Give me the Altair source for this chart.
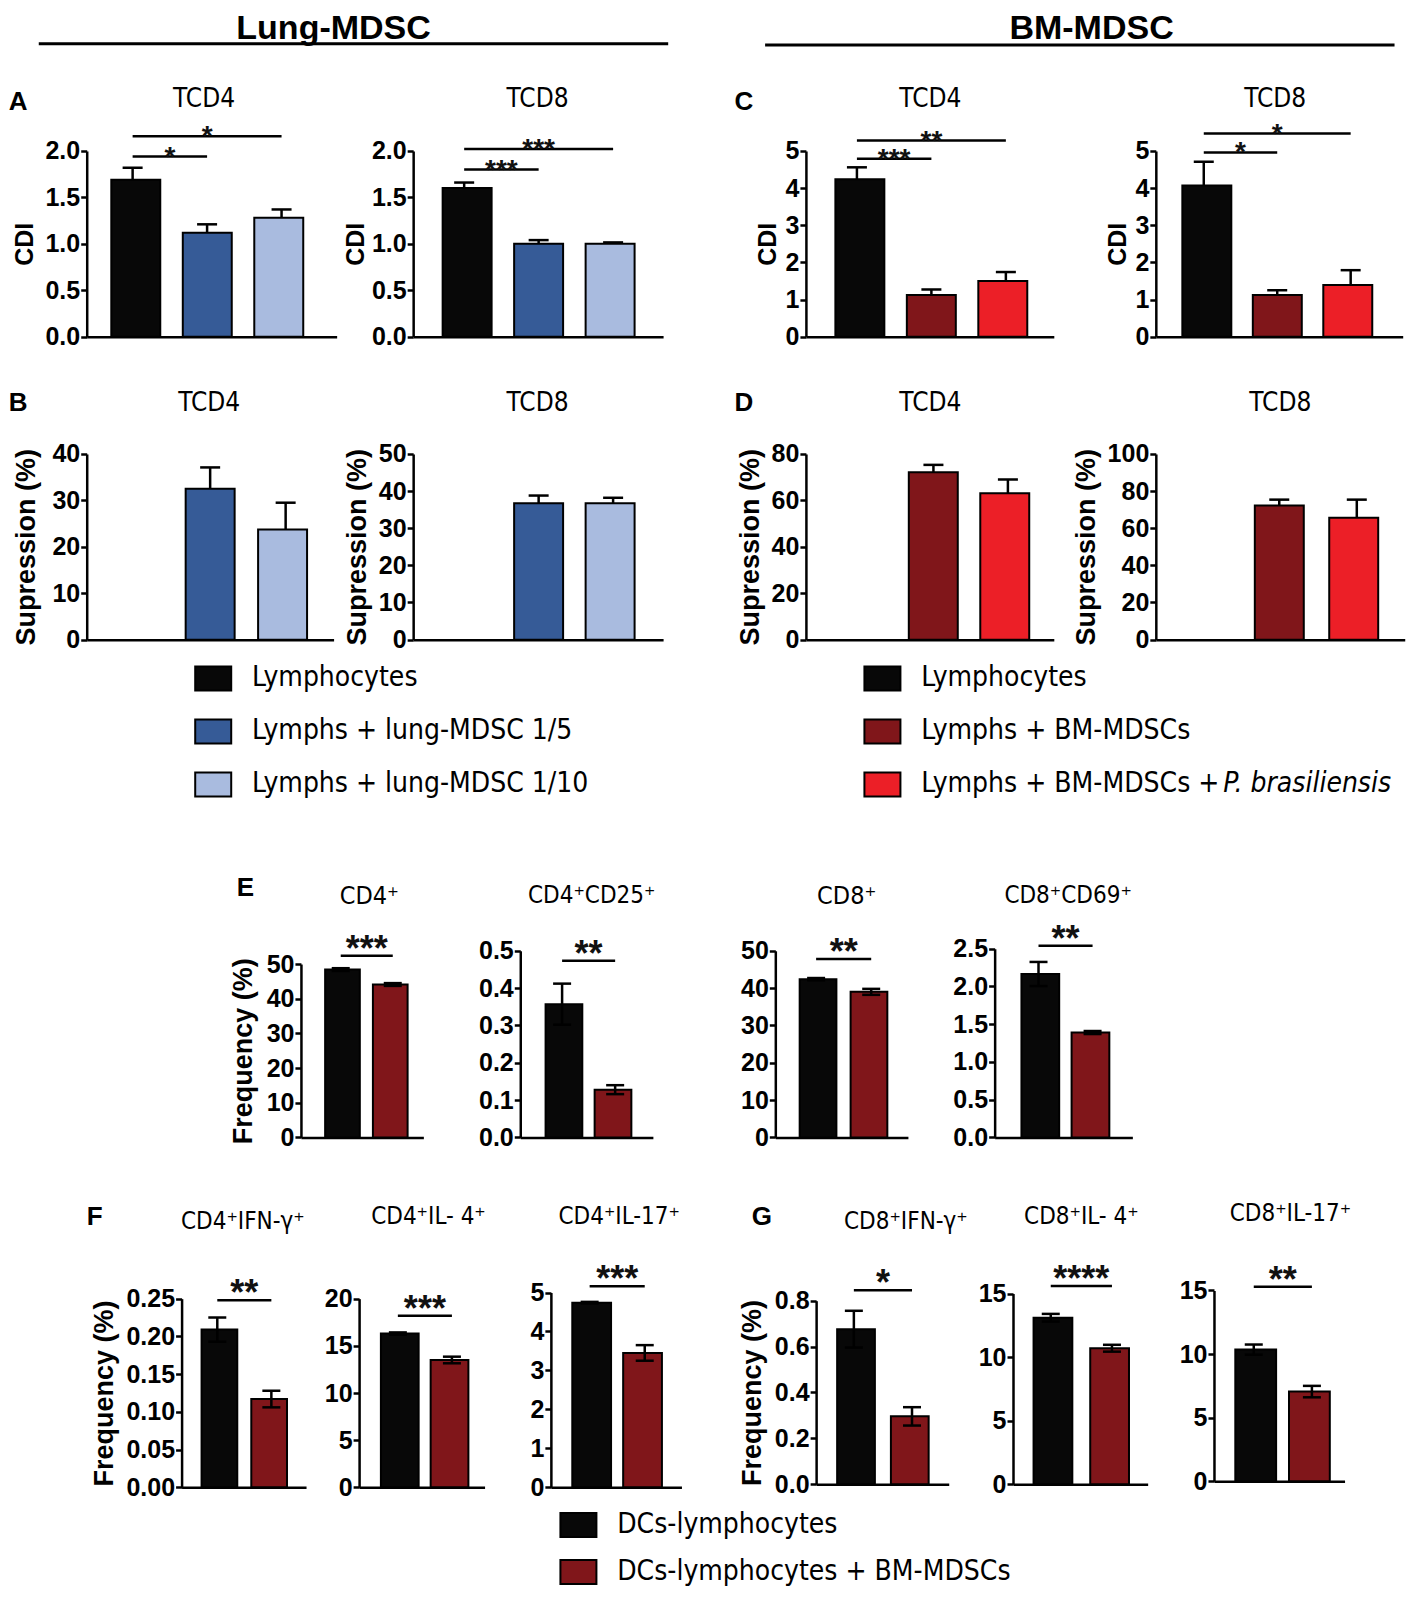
import altair as alt
import pandas as pd

# ---------------- groups / colours ----------------
lung_groups = ["Lymphocytes", "Lymphs + lung-MDSC 1/5", "Lymphs + lung-MDSC 1/10"]
lung_colors = ["#080808", "#365b97", "#a9bbdf"]
bm_groups = ["Lymphocytes", "Lymphs + BM-MDSCs", "Lymphs + BM-MDSCs + P. brasiliensis"]
bm_colors = ["#080808", "#80161a", "#ec1f27"]
dc_groups = ["DCs-lymphocytes", "DCs-lymphocytes + BM-MDSCs"]
dc_colors = ["#080808", "#80161a"]

# legend texts (BM third row has an italic species name)
lung_legend = ["Lymphocytes", "Lymphs + lung-MDSC 1/5", "Lymphs + lung-MDSC 1/10"]
bm_legend_plain = ["Lymphocytes", "Lymphs + BM-MDSCs", "Lymphs + BM-MDSCs + "]
bm_legend_italic = ["", "", "P. brasiliensis"]
dc_legend = ["DCs-lymphocytes", "DCs-lymphocytes + BM-MDSCs"]

# ---------------- values (mean, SEM, significance brackets) ----------------
# brackets: (from bar, to bar, height, label)
a_tcd4_mean = [1.69, 1.12, 1.28]
a_tcd4_err = [0.13, 0.09, 0.09]
a_tcd4_sig = [(0, 1, 1.94, "*"), (0, 2, 2.16, "*")]

a_tcd8_mean = [1.60, 1.00, 1.00]
a_tcd8_err = [0.06, 0.04, 0.015]
a_tcd8_sig = [(0, 1, 1.80, "***"), (0, 2, 2.02, "***")]

c_tcd4_mean = [4.24, 1.12, 1.50]
c_tcd4_err = [0.32, 0.15, 0.24]
c_tcd4_sig = [(0, 1, 4.79, "***"), (0, 2, 5.28, "**")]

c_tcd8_mean = [4.07, 1.12, 1.39]
c_tcd8_err = [0.64, 0.13, 0.40]
c_tcd8_sig = [(0, 1, 4.96, "*"), (0, 2, 5.47, "*")]

b_tcd4_mean = [32.5, 23.7]
b_tcd4_err = [4.6, 5.8]
b_tcd8_mean = [36.7, 36.7]
b_tcd8_err = [2.1, 1.5]
d_tcd4_mean = [72.1, 63.1]
d_tcd4_err = [3.2, 5.9]
d_tcd8_mean = [72.2, 65.6]
d_tcd8_err = [3.2, 9.8]

e_cd4_mean = [48.4, 44.1]
e_cd4_err = [0.4, 0.4]
e_cd4_sig = [(0, 1, 52.4, "***")]
e_cd4cd25_mean = [0.357, 0.128]
e_cd4cd25_err = [0.055, 0.012]
e_cd4cd25_sig = [(0, 1, 0.473, "**")]
e_cd8_mean = [42.4, 39.0]
e_cd8_err = [0.3, 0.8]
e_cd8_sig = [(0, 1, 47.8, "**")]
e_cd8cd69_mean = [2.165, 1.39]
e_cd8cd69_err = [0.16, 0.02]
e_cd8cd69_sig = [(0, 1, 2.54, "**")]

f_ifn_mean = [0.209, 0.117]
f_ifn_err = [0.016, 0.011]
f_ifn_sig = [(0, 1, 0.248, "**")]
f_il4_mean = [16.3, 13.5]
f_il4_err = [0.12, 0.35]
f_il4_sig = [(0, 1, 18.2, "***")]
f_il17_mean = [4.74, 3.45]
f_il17_err = [0.02, 0.2]
f_il17_sig = [(0, 1, 5.16, "***")]

g_ifn_mean = [0.676, 0.296]
g_ifn_err = [0.08, 0.04]
g_ifn_sig = [(0, 1, 0.845, "*")]
g_il4_mean = [13.1, 10.7]
g_il4_err = [0.3, 0.27]
g_il4_sig = [(0, 1, 15.6, "****")]
g_il17_mean = [10.35, 7.05]
g_il17_err = [0.4, 0.45]
g_il17_sig = [(0, 1, 15.3, "**")]

# ---------------- layout / style ----------------
W, H = 1402, 1581
M = 8          # page margin
K = 1418 / 1390  # layout grid -> page pixels
NARROW = "Liberation Sans Narrow, Arial Narrow, DejaVu Sans Condensed, sans-serif"
ARIAL = "Liberation Sans, Arial, Helvetica, sans-serif"


def px(v):
    return v * K - M


layers = []


def txt(s, x, y, size, weight="normal", font=NARROW, align="center",
        baseline="middle", style="normal"):
    return alt.Chart(pd.DataFrame({"t": [s]})).mark_text(
        fontSize=size, fontWeight=weight, font=font, align=align,
        baseline=baseline, fontStyle=style, color="black"
    ).encode(text="t:N", x=alt.value(px(x)), y=alt.value(px(y)))


def panel(groups, colors, idx, mean, err, sig, L, both=False, ytitle=None,
          ytx=0, ytsize=27, star_size=28, star_dy=9, cap=20):
    x0, x1, c0, s, w = L["x0"], L["x1"], L["c0"], L["s"], L["w"]
    y0, ytop, ymax = L["y0"], L["ytop"], L["ymax"]
    xs = alt.Scale(domain=[(x0 - c0) / s, (x1 - c0) / s], range=[px(x0), px(x1)],
                   nice=False, zero=False)
    ys = alt.Scale(domain=[0, ymax], range=[px(y0), px(ytop)], nice=False, zero=False)
    df = pd.DataFrame({"group": [groups[i] for i in idx], "idx": idx,
                       "mean": mean, "err": err})
    df["hi"] = df["mean"] + df["err"]
    df["lo"] = df["mean"] - df["err"] if both else df["mean"]

    xaxis = alt.Axis(orient="bottom", offset=px(y0) - H, ticks=False, labels=False,
                     title=None, grid=False, domainWidth=2.5, domainColor="black")
    yaxis_kw = dict(orient="left", offset=-px(x0), values=L["ticks"], format=L["fmt"],
                    grid=False, domainWidth=2.5, domainColor="black", tickSize=6,
                    tickWidth=2.5, tickColor="black", labelFont=ARIAL,
                    labelFontSize=25, labelFontWeight="bold", labelColor="black",
                    labelPadding=1, labelOverlap=False, labelBound=False)
    if ytitle:
        yaxis_kw.update(title=ytitle, titleX=(ytx - x0) * K, titleBaseline="middle",
                        titleAngle=-90, titleFont=ARIAL, titleFontSize=ytsize,
                        titleFontWeight="bold", titleColor="black")
    else:
        yaxis_kw.update(title=None)
    yaxis = alt.Axis(**yaxis_kw)

    bars = alt.Chart(df).mark_bar(size=w * K, stroke="black", strokeWidth=2,
                                  orient="vertical").encode(
        x=alt.X("idx:Q", scale=xs, axis=xaxis),
        y=alt.Y("mean:Q", scale=ys, axis=yaxis),
        y2=alt.datum(0),
        color=alt.Color("group:N", scale=alt.Scale(domain=groups, range=colors),
                        legend=None),
    )
    rule = alt.Chart(df).mark_rule(color="black", strokeWidth=2.5).encode(
        x=alt.X("idx:Q", scale=xs, axis=None),
        y=alt.Y("lo:Q", scale=ys, axis=None), y2="hi:Q")
    capt = alt.Chart(df).mark_tick(orient="horizontal", size=cap, thickness=2.5,
                                   color="black", opacity=1).encode(
        x=alt.X("idx:Q", scale=xs, axis=None),
        y=alt.Y("hi:Q", scale=ys, axis=None))
    out = [bars, rule, capt]
    if both:
        capb = alt.Chart(df).mark_tick(orient="horizontal", size=cap, thickness=2.5,
                                       color="black", opacity=1).encode(
            x=alt.X("idx:Q", scale=xs, axis=None),
            y=alt.Y("lo:Q", scale=ys, axis=None))
        out.append(capb)
    if sig:
        sdf = pd.DataFrame(sig, columns=["a", "b", "level", "label"])
        sdf["mid"] = (sdf["a"] + sdf["b"]) / 2
        br = alt.Chart(sdf).mark_rule(color="black", strokeWidth=2.5).encode(
            x=alt.X("a:Q", scale=xs, axis=None), x2="b:Q",
            y=alt.Y("level:Q", scale=ys, axis=None))
        st = alt.Chart(sdf).mark_text(font=ARIAL, fontSize=star_size, fontWeight="bold",
                                      baseline="alphabetic", dy=star_dy,
                                      color="#111111").encode(
            x=alt.X("mid:Q", scale=xs, axis=None),
            y=alt.Y("level:Q", scale=ys, axis=None), text="label:N")
        out += [br, st]
    return out


def L(x0, x1, c0, s, w, y0, ytop, ymax, ticks, fmt):
    return dict(x0=x0, x1=x1, c0=c0, s=s, w=w, y0=y0, ytop=ytop, ymax=ymax,
                ticks=ticks, fmt=fmt)


t_cdi2 = [0, 0.5, 1.0, 1.5, 2.0]
t_cdi5 = [0, 1, 2, 3, 4, 5]
EFG = dict(both=True, star_size=36, star_dy=5, cap=18)

# ----- A -----
layers += panel(lung_groups, lung_colors, [0, 1, 2], a_tcd4_mean, a_tcd4_err, a_tcd4_sig,
                L(85, 330, 130, 73, 48, 330, 148, 2.0, t_cdi2, ".1f"),
                ytitle="CDI", ytx=24, ytsize=25)
layers += panel(lung_groups, lung_colors, [0, 1, 2], a_tcd8_mean, a_tcd8_err, a_tcd8_sig,
                L(405, 650, 455, 73, 48, 330, 148, 2.0, t_cdi2, ".1f"),
                ytitle="CDI", ytx=348, ytsize=25)
# ----- C -----
layers += panel(bm_groups, bm_colors, [0, 1, 2], c_tcd4_mean, c_tcd4_err, c_tcd4_sig,
                L(790, 1033, 840, 73, 48, 330, 148, 5, t_cdi5, "d"),
                ytitle="CDI", ytx=752, ytsize=25)
layers += panel(bm_groups, bm_colors, [0, 1, 2], c_tcd8_mean, c_tcd8_err, c_tcd8_sig,
                L(1133, 1375, 1180, 72, 48, 330, 148, 5, t_cdi5, "d"),
                ytitle="CDI", ytx=1095, ytsize=25)
# ----- B -----
layers += panel(lung_groups, lung_colors, [1, 2], b_tcd4_mean, b_tcd4_err, None,
                L(85, 327, 132, 74, 48, 627, 445, 40, [0, 10, 20, 30, 40], "d"),
                ytitle="Supression (%)", ytx=26)
layers += panel(lung_groups, lung_colors, [1, 2], b_tcd8_mean, b_tcd8_err, None,
                L(405, 650, 455, 73, 48, 627, 445, 50, [0, 10, 20, 30, 40, 50], "d"),
                ytitle="Supression (%)", ytx=350)
# ----- D -----
layers += panel(bm_groups, bm_colors, [1, 2], d_tcd4_mean, d_tcd4_err, None,
                L(790, 1033, 842, 73, 48, 627, 445, 80, [0, 20, 40, 60, 80], "d"),
                ytitle="Supression (%)", ytx=736)
layers += panel(bm_groups, bm_colors, [1, 2], d_tcd8_mean, d_tcd8_err, None,
                L(1133, 1377, 1178, 76, 48, 627, 445, 100, [0, 20, 40, 60, 80, 100], "d"),
                ytitle="Supression (%)", ytx=1065)
# ----- E -----
layers += panel(dc_groups, dc_colors, [0, 1], e_cd4_mean, e_cd4_err, e_cd4_sig,
                L(295, 415, 334, 51, 34, 1115, 945, 50, [0, 10, 20, 30, 40, 50], "d"),
                ytitle="Frequency (%)", ytx=239, **EFG)
layers += panel(dc_groups, dc_colors, [0, 1], e_cd4cd25_mean, e_cd4cd25_err, e_cd4cd25_sig,
                L(510, 640, 551, 52, 36, 1115, 932, 0.5, [0, 0.1, 0.2, 0.3, 0.4, 0.5], ".1f"),
                **EFG)
layers += panel(dc_groups, dc_colors, [0, 1], e_cd8_mean, e_cd8_err, e_cd8_sig,
                L(760, 890, 800, 54, 36, 1115, 932, 50, [0, 10, 20, 30, 40, 50], "d"),
                **EFG)
layers += panel(dc_groups, dc_colors, [0, 1], e_cd8cd69_mean, e_cd8cd69_err, e_cd8cd69_sig,
                L(975, 1110, 1018, 53, 37, 1115, 930, 2.5, [0, 0.5, 1.0, 1.5, 2.0, 2.5], ".1f"),
                **EFG)
# ----- F -----
layers += panel(dc_groups, dc_colors, [0, 1], f_ifn_mean, f_ifn_err, f_ifn_sig,
                L(178, 300, 213, 53, 35, 1458, 1273, 0.25,
                  [0, 0.05, 0.10, 0.15, 0.20, 0.25], ".2f"),
                ytitle="Frequency (%)", ytx=102, **EFG)
layers += panel(dc_groups, dc_colors, [0, 1], f_il4_mean, f_il4_err, f_il4_sig,
                L(352, 475, 390, 53, 37, 1458, 1273, 20, [0, 5, 10, 15, 20], "d"),
                **EFG)
layers += panel(dc_groups, dc_colors, [0, 1], f_il17_mean, f_il17_err, f_il17_sig,
                L(540, 668, 578, 54, 38, 1458, 1267, 5, [0, 1, 2, 3, 4, 5], "d"),
                **EFG)
# ----- G -----
layers += panel(dc_groups, dc_colors, [0, 1], g_ifn_mean, g_ifn_err, g_ifn_sig,
                L(800, 930, 837, 57, 37, 1455, 1275, 0.8, [0, 0.2, 0.4, 0.6, 0.8], ".1f"),
                ytitle="Frequency (%)", ytx=738, **EFG)
layers += panel(dc_groups, dc_colors, [0, 1], g_il4_mean, g_il4_err, g_il4_sig,
                L(993, 1125, 1030, 60, 38, 1455, 1268, 15, [0, 5, 10, 15], "d"),
                **EFG)
layers += panel(dc_groups, dc_colors, [0, 1], g_il17_mean, g_il17_err, g_il17_sig,
                L(1190, 1318, 1229, 57, 40, 1452, 1265, 15, [0, 5, 10, 15], "d"),
                **EFG)

# ---------------- headers ----------------
layers.append(txt("Lung-MDSC", 327, 28, 34, weight="bold", font=ARIAL))
layers.append(txt("BM-MDSC", 1070, 28, 34, weight="bold", font=ARIAL))
for (xa, xb, yy) in [(38, 655, 43), (750, 1367, 44)]:
    layers.append(alt.Chart(pd.DataFrame({"t": [0]})).mark_rule(
        color="black", strokeWidth=3).encode(
        x=alt.value(px(xa)), x2=alt.value(px(xb)), y=alt.value(px(yy))))

# ---------------- panel titles ----------------
titles = [("TCD4", 200, 97, 26), ("TCD8", 527, 97, 26), ("TCD4", 912, 97, 26),
          ("TCD8", 1250, 97, 26), ("TCD4", 205, 395, 26), ("TCD8", 527, 395, 26),
          ("TCD4", 912, 395, 26), ("TCD8", 1255, 395, 26),
          ("CD4\u207a", 362, 878, 25), ("CD4\u207aCD25\u207a", 580, 878, 24),
          ("CD8\u207a", 830, 878, 25), ("CD8\u207aCD69\u207a", 1047, 878, 24),
          ("CD4\u207aIFN-\u03b3\u207a", 238, 1198, 24), ("CD4\u207aIL- 4\u207a", 420, 1193, 24),
          ("CD4\u207aIL-17\u207a", 607, 1193, 24),
          ("CD8\u207aIFN-\u03b3\u207a", 888, 1198, 24), ("CD8\u207aIL- 4\u207a", 1060, 1193, 24),
          ("CD8\u207aIL-17\u207a", 1265, 1190, 24)]
for s, x, y, fs in titles:
    layers.append(txt(s, x, y, fs))

# ---------------- panel letters ----------------
for s, x, y in [("A", 8.5, 100), ("B", 8.5, 395), ("C", 720, 100), ("D", 720, 395),
                ("E", 232, 870), ("F", 85, 1193), ("G", 737, 1193)]:
    layers.append(txt(s, x, y, 26, weight="bold", font=ARIAL, align="left"))

# ---------------- legends ----------------
RECT = "M-0.75,-0.5L0.75,-0.5L0.75,0.5L-0.75,0.5Z"


def legend(groups, colors, labels, sq_x, tx, ys, italic=None, it_x=None):
    n = len(groups)
    df = pd.DataFrame({"group": groups, "row": list(range(n)), "label": labels})
    ysc = alt.Scale(domain=[0, n - 1], range=[px(ys[0]), px(ys[1])], nice=False, zero=False)
    out = [
        alt.Chart(df).mark_point(shape=RECT, size=2304, filled=True, stroke="black",
                                 strokeWidth=2, opacity=1).encode(
            x=alt.value(px(sq_x)), y=alt.Y("row:Q", scale=ysc, axis=None),
            fill=alt.Color("group:N", scale=alt.Scale(domain=groups, range=colors),
                           legend=None)),
        alt.Chart(df).mark_text(font=NARROW, fontSize=28, align="left", baseline="middle",
                                color="black").encode(
            x=alt.value(px(tx)), y=alt.Y("row:Q", scale=ysc, axis=None), text="label:N"),
    ]
    if italic:
        idf = pd.DataFrame({"row": list(range(n)), "label": italic})
        out.append(alt.Chart(idf).mark_text(font=NARROW, fontSize=28, align="left",
                                            baseline="middle", fontStyle="italic",
                                            color="black").encode(
            x=alt.value(px(it_x)), y=alt.Y("row:Q", scale=ysc, axis=None), text="label:N"))
    return out


layers += legend(lung_groups, lung_colors, lung_legend, 209, 247, (665, 769))
layers += legend(bm_groups, bm_colors, bm_legend_plain, 865, 903, (665, 769),
                 italic=bm_legend_italic, it_x=1199)
layers += legend(dc_groups, dc_colors, dc_legend, 567, 605, (1495, 1541))

chart = alt.layer(*layers).resolve_scale(
    x="independent", y="independent", color="independent", fill="independent"
).properties(
    width=W, height=H, autosize=alt.AutoSizeParams(type="none"), padding=0,
    background="white"
).configure_view(stroke=None)

chart.save("out.html", embed_options={"renderer": "svg", "actions": False})
